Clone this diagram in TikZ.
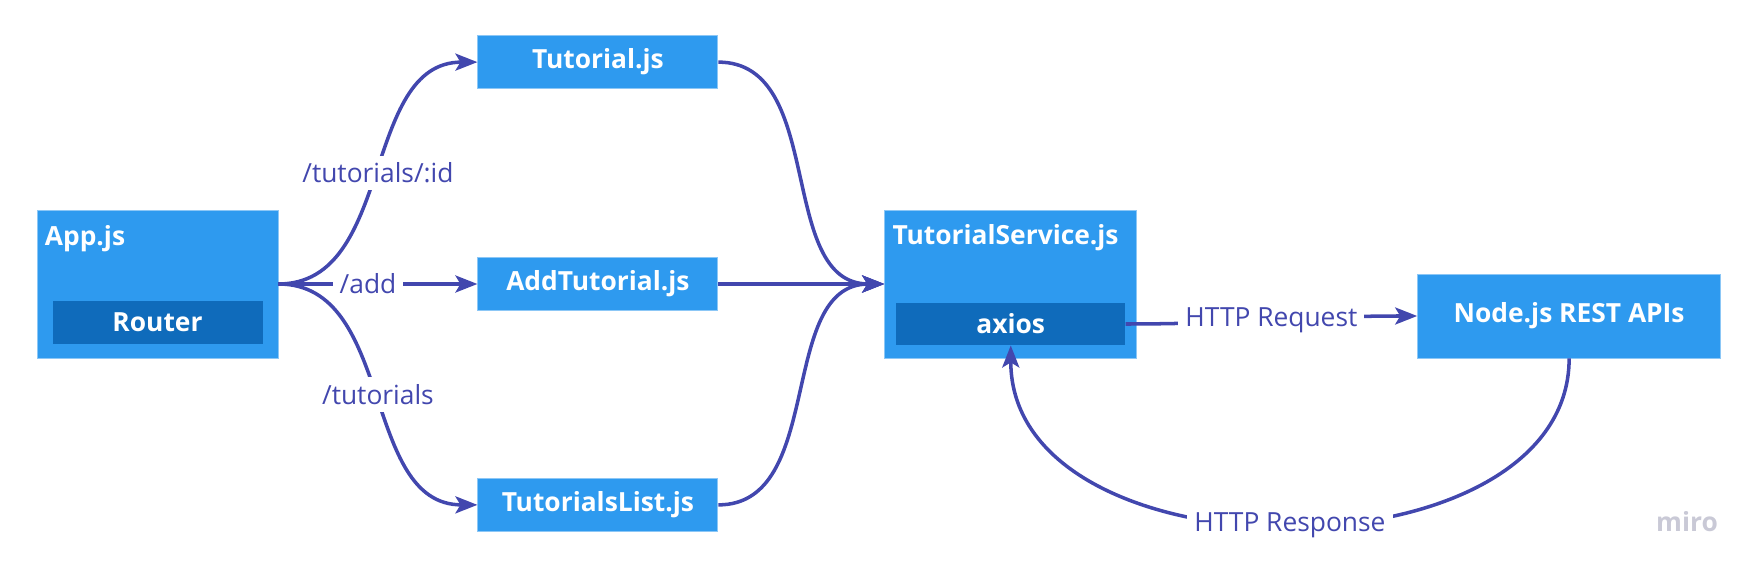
\documentclass[tikz,border=0pt]{standalone}
\usepackage{fontspec}
\setmainfont{Open Sans}
\usetikzlibrary{arrows.meta,positioning}
\definecolor{Sky}{HTML}{2E9AEF}
\definecolor{Navy}{HTML}{0F6BBB}
\definecolor{Indigo}{HTML}{4247AE}
\definecolor{Haze}{HTML}{C9C9D6}
\tikzset{
 box/.style={draw=Sky!55!white,line width=0.5pt,fill=Sky,text=white,font=\fontsize{15}{18}\selectfont\bfseries,inner sep=0pt},
 inner/.style={box,fill=Navy,draw=none},
 title/.style={text=white,font=\fontsize{15}{18}\selectfont\bfseries,inner sep=0pt,anchor=north west},
 arr/.style={-{Stealth[length=4.4mm,width=3.4mm,inset=1mm]},line width=2pt,draw=Indigo},
 lbl/.style={fill=white,text=Indigo,font=\fontsize{15}{18}\selectfont,inner sep=4pt}
}

\begin{document}
\begin{tikzpicture}
\useasboundingbox (0,0) rectangle (35.1,-11.38);
\node[box,minimum width=4.82cm,minimum height=2.96cm] (app) at (3.15,-5.68) {};
\node[title,xshift=0.16cm,yshift=-0.32cm] (apptitle) at (app.north west) {App.js};
\node[inner,minimum width=4.2cm,minimum height=0.86cm,above=0.28cm of app.south] (router) {Router};
\node[box,minimum width=4.8cm,minimum height=1.06cm,right=3.98cm of app] (add) {AddTutorial.js};
\node[box,minimum width=4.8cm,minimum height=1.06cm,above=3.36cm of add] (tut) {Tutorial.js};
\node[box,minimum width=4.8cm,minimum height=1.06cm,below=3.34cm of add] (list) {TutorialsList.js};
\node[box,minimum width=5.04cm,minimum height=2.96cm,right=3.32cm of add] (svc) {};
\node[title,xshift=0.16cm,yshift=-0.3cm] (svctitle) at (svc.north west) {TutorialService.js};
\node[inner,minimum width=4.58cm,minimum height=0.84cm,above=0.26cm of svc.south] (axios) {axios};
\node[box,minimum width=6.06cm,minimum height=1.68cm,right=5.6cm of svc.south east,anchor=south west] (api) {Node.js REST APIs};
\node[text=Haze,font=\fontsize{15}{18}\selectfont\bfseries] (miro) at (33.74,-10.44) {miro};
\draw[arr] (app.east) to[out=0,in=180] node[lbl] (lid) {/tutorials/:id} (tut.west);
\draw[arr] (app.east) -- node[lbl,pos=0.45] (ladd) {/add} (add.west);
\draw[arr] (app.east) to[out=0,in=180] node[lbl] (lall) {/tutorials} (list.west);
\foreach \x in {tut,add,list} \draw[arr] (\x.east) to[out=0,in=180] (svc.west);
\draw[arr] (axios.east) to[out=0,in=180] node[lbl] (lreq) {HTTP Request} (api.west);
\draw[arr] (api.south) .. controls +(0,-4.48) and +(0,-4.76) .. node[lbl] (lres) {HTTP Response} (axios.south);
\end{tikzpicture}
\end{document}
